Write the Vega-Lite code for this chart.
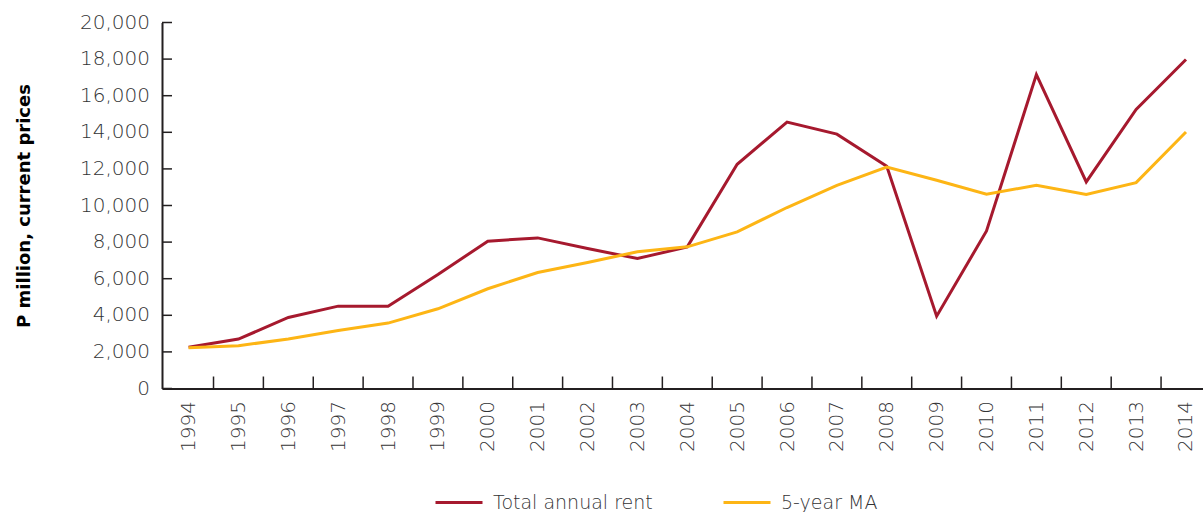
{
  "$schema": "https://vega.github.io/schema/vega-lite/v6.json",
  "width": 1041,
  "height": 366,
  "autosize": "none",
  "padding": {"left": 162, "top": 22.5, "right": 0, "bottom": 123.5},
  "background": "white",
  "datasets": {
    "series": [
      {"year": 1994, "series": "Total annual rent", "value": 2250},
      {"year": 1995, "series": "Total annual rent", "value": 2700},
      {"year": 1996, "series": "Total annual rent", "value": 3880},
      {"year": 1997, "series": "Total annual rent", "value": 4500},
      {"year": 1998, "series": "Total annual rent", "value": 4500},
      {"year": 1999, "series": "Total annual rent", "value": 6230},
      {"year": 2000, "series": "Total annual rent", "value": 8050},
      {"year": 2001, "series": "Total annual rent", "value": 8230},
      {"year": 2002, "series": "Total annual rent", "value": 7650},
      {"year": 2003, "series": "Total annual rent", "value": 7100},
      {"year": 2004, "series": "Total annual rent", "value": 7740},
      {"year": 2005, "series": "Total annual rent", "value": 12250},
      {"year": 2006, "series": "Total annual rent", "value": 14560},
      {"year": 2007, "series": "Total annual rent", "value": 13900},
      {"year": 2008, "series": "Total annual rent", "value": 12150},
      {"year": 2009, "series": "Total annual rent", "value": 3950},
      {"year": 2010, "series": "Total annual rent", "value": 8610},
      {"year": 2011, "series": "Total annual rent", "value": 17150},
      {"year": 2012, "series": "Total annual rent", "value": 11290},
      {"year": 2013, "series": "Total annual rent", "value": 15250},
      {"year": 2014, "series": "Total annual rent", "value": 17980},
      {"year": 1994, "series": "5-year MA", "value": 2230},
      {"year": 1995, "series": "5-year MA", "value": 2340},
      {"year": 1996, "series": "5-year MA", "value": 2700},
      {"year": 1997, "series": "5-year MA", "value": 3175},
      {"year": 1998, "series": "5-year MA", "value": 3575},
      {"year": 1999, "series": "5-year MA", "value": 4355},
      {"year": 2000, "series": "5-year MA", "value": 5450},
      {"year": 2001, "series": "5-year MA", "value": 6340},
      {"year": 2002, "series": "5-year MA", "value": 6890},
      {"year": 2003, "series": "5-year MA", "value": 7470},
      {"year": 2004, "series": "5-year MA", "value": 7740},
      {"year": 2005, "series": "5-year MA", "value": 8560},
      {"year": 2006, "series": "5-year MA", "value": 9890},
      {"year": 2007, "series": "5-year MA", "value": 11105},
      {"year": 2008, "series": "5-year MA", "value": 12100},
      {"year": 2009, "series": "5-year MA", "value": 11380},
      {"year": 2010, "series": "5-year MA", "value": 10615},
      {"year": 2011, "series": "5-year MA", "value": 11105},
      {"year": 2012, "series": "5-year MA", "value": 10600},
      {"year": 2013, "series": "5-year MA", "value": 11250},
      {"year": 2014, "series": "5-year MA", "value": 14015}
    ],
    "xticks": [
      {"t": 1994.5}, {"t": 1995.5}, {"t": 1996.5}, {"t": 1997.5}, {"t": 1998.5},
      {"t": 1999.5}, {"t": 2000.5}, {"t": 2001.5}, {"t": 2002.5}, {"t": 2003.5},
      {"t": 2004.5}, {"t": 2005.5}, {"t": 2006.5}, {"t": 2007.5}, {"t": 2008.5},
      {"t": 2009.5}, {"t": 2010.5}, {"t": 2011.5}, {"t": 2012.5}, {"t": 2013.5}
    ],
    "yticks": [
      {"v": 0}, {"v": 2000}, {"v": 4000}, {"v": 6000}, {"v": 8000}, {"v": 10000},
      {"v": 12000}, {"v": 14000}, {"v": 16000}, {"v": 18000}, {"v": 20000}
    ]
  },
  "config": {
    "view": {"stroke": null},
    "axis": {
      "ticks": false,
      "grid": false,
      "domainColor": "#231F20",
      "domainWidth": 2,
      "labelFlush": false,
      "labelOverlap": false,
      "labelBound": false,
      "labelFont": "DejaVu Sans",
      "labelFontWeight": 300,
      "labelFontSize": 20,
      "labelColor": "#333335",
      "labelPadding": 12
    },
    "axisX": {
      "labelAngle": -90,
      "labelAlign": "right",
      "labelBaseline": "middle"
    },
    "axisY": {
      "labels": false,
      "titleFont": "DejaVu Sans",
      "titleFontWeight": "bold",
      "titleFontSize": 18,
      "titleColor": "#000000",
      "titlePadding": 129
    }
  },
  "layer": [
    {
      "data": {"name": "series"},
      "mark": {"type": "line", "strokeWidth": 3, "clip": false},
      "encoding": {
        "x": {
          "field": "year",
          "type": "quantitative",
          "scale": {"domain": [1993.467, 2014.341], "nice": false, "zero": false},
          "axis": {
            "title": null,
            "values": [1994, 1995, 1996, 1997, 1998, 1999, 2000, 2001, 2002, 2003, 2004, 2005, 2006, 2007, 2008, 2009, 2010, 2011, 2012, 2013, 2014],
            "format": "d",
            "labelOverlap": false
          }
        },
        "y": {
          "field": "value",
          "type": "quantitative",
          "scale": {"domain": [0, 20000], "nice": false},
          "axis": {
            "title": "P million, current prices",
            "values": [0, 2000, 4000, 6000, 8000, 10000, 12000, 14000, 16000, 18000, 20000],
            "labels": false
          }
        },
        "color": {
          "field": "series",
          "type": "nominal",
          "scale": {"domain": ["Total annual rent", "5-year MA"], "range": ["#A6192E", "#FDB515"]},
          "legend": {
            "title": null,
            "orient": "none",
            "legendX": 272,
            "legendY": 455,
            "direction": "horizontal",
            "symbolType": "stroke",
            "symbolSize": 2209,
            "symbolStrokeWidth": 3,
            "labelOffset": 9,
            "columnPadding": 64,
            "labelFont": "DejaVu Sans",
            "labelFontWeight": 300,
            "labelFontSize": 19,
            "labelColor": "#333335"
          }
        }
      }
    },
    {
      "data": {"name": "xticks"},
      "mark": {"type": "rule", "color": "#231F20", "strokeWidth": 1.5},
      "encoding": {
        "x": {"field": "t", "type": "quantitative"},
        "y": {"datum": 0, "type": "quantitative"},
        "y2": {"datum": 655}
      }
    },
    {
      "data": {"name": "yticks"},
      "mark": {"type": "rule", "color": "#231F20", "strokeWidth": 1.5},
      "encoding": {
        "y": {"field": "v", "type": "quantitative"},
        "x": {"datum": 1993.467, "type": "quantitative"},
        "x2": {"datum": 1993.667}
      }
    },
    {
      "data": {"name": "yticks"},
      "mark": {
        "type": "text",
        "align": "right",
        "baseline": "middle",
        "dx": -12,
        "font": "DejaVu Sans",
        "fontWeight": 300,
        "fontSize": 20,
        "color": "#333335",
        "clip": false
      },
      "encoding": {
        "y": {"field": "v", "type": "quantitative"},
        "x": {"datum": 1993.467, "type": "quantitative"},
        "text": {"field": "v", "type": "quantitative", "format": ",d"}
      }
    }
  ]
}
